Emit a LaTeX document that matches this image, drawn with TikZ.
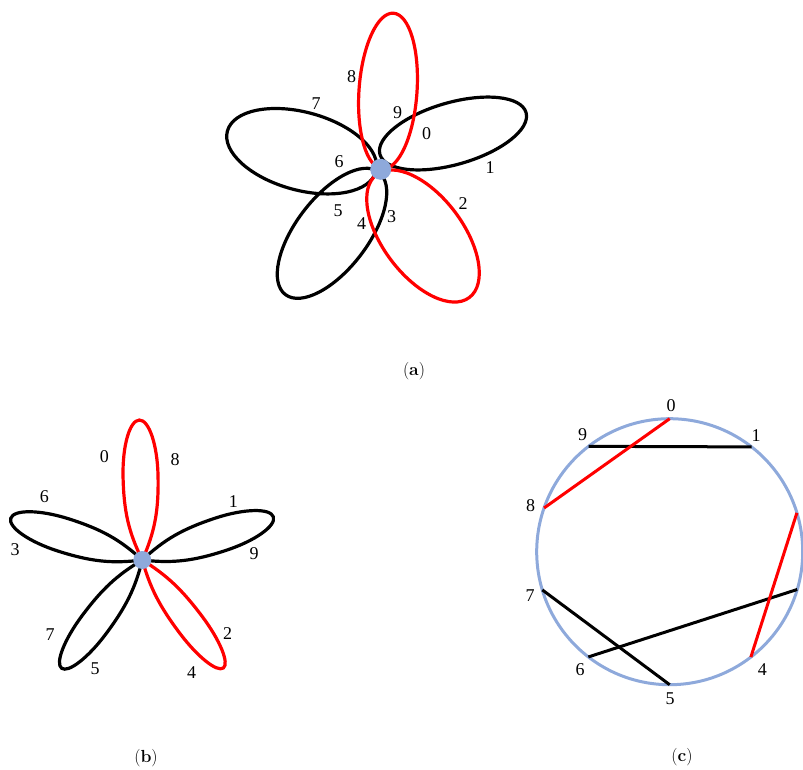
\documentclass[tikz,border=0pt]{standalone}
\usepackage{fontspec}
\newfontfamily\numfont{Liberation Serif}
\definecolor{dotblue}{HTML}{8EA9DB}
\definecolor{pred}{HTML}{FF0000}
\newcommand\bpetal[4]{%
 \begin{scope}[shift={(142.3,-560)}, rotate=#1]
  \draw[petal,#4] (0,0) .. controls ({0.2*#2},{0.75*#3}) and ({0.35*#2},#3) .. ({0.6*#2},#3)
    .. controls ({0.82*#2},#3) and (#2,{0.55*#3}) .. (#2,0)
    .. controls (#2,{-0.55*#3}) and ({0.82*#2},-#3) .. ({0.6*#2},-#3)
    .. controls ({0.35*#2},-#3) and ({0.2*#2},{-0.75*#3}) .. cycle;
 \end{scope}}
\begin{document}
\begin{tikzpicture}[x=1pt,y=1pt,
  petal/.style={line width=3.2pt},
  lab/.style={font=\numfont\fontsize{18}{18}\selectfont, inner sep=0pt},
  captxt/.style={font=\fontsize{17.5}{17.5}\selectfont, inner sep=0pt},
  chord/.style={line width=3pt},
  hub/.style={circle, fill=dotblue, inner sep=0pt}]
\useasboundingbox (0,0) rectangle (803,-769);

% ---------- (a) ----------
\draw[petal, rotate around={-15.2:(301.7,-151.2)}] (301.7,-151.2) ellipse [x radius=77, y radius=39];
\draw[petal, rotate around={16:(453,-133.5)}] (453,-133.5) ellipse [x radius=76, y radius=31];
\draw[petal, rotate around={52.7:(332,-233.3)}] (332,-233.3) ellipse [x radius=77, y radius=36];
\draw[petal, pred, rotate around={86:(388,-91)}] (388,-91) ellipse [x radius=78, y radius=29];
\draw[petal, pred, rotate around={-53:(423,-236)}] (423,-236) ellipse [x radius=77, y radius=40];
\node[hub, minimum size=21pt] (adot) at (380.7,-169.3) {};

\node[lab] (a8) at (351.7,-77) {8};
\node[lab] (a7) at (316,-104) {7};
\node[lab] (a9) at (397.7,-113) {9};
\node[lab] (a0) at (426.7,-134) {0};
\node[lab] (a6) at (339,-162) {6};
\node[lab] (a1) at (490,-168) {1};
\node[lab] (a2) at (463,-204) {2};
\node[lab] (a5) at (338,-211) {5};
\node[lab] (a3) at (391.7,-217) {3};
\node[lab] (a4) at (361.7,-224) {4};
\node[captxt] (capa) at (414,-371) {(\textbf{a})};

% ---------- (b) ----------
\bpetal{18.2}{138}{17}{black}
\bpetal{162.4}{138}{17}{black}
\bpetal{233.3}{135}{15}{black}
\bpetal{91.2}{140}{17.5}{pred}
\bpetal{306.9}{135}{14}{pred}
\node[hub, minimum size=18pt] (bdot) at (142.3,-560) {};

\node[lab] (b0) at (104.3,-456.7) {0};
\node[lab] (b8) at (175,-459.3) {8};
\node[lab] (b6) at (44.3,-496.7) {6};
\node[lab] (b1) at (233.3,-501.7) {1};
\node[lab] (b3) at (15,-549.3) {3};
\node[lab] (b9) at (254,-553.3) {9};
\node[lab] (b7) at (50,-635) {7};
\node[lab] (b2) at (227.7,-634) {2};
\node[lab] (b5) at (95,-668.3) {5};
\node[lab] (b4) at (191.7,-672.3) {4};
\node[captxt] (capb) at (146,-758) {(\textbf{b})};

% ---------- (c) ----------
\coordinate (cc) at (669.7,-551.7);
\path (cc) ++(90:133) coordinate (c0);
\path (cc) ++(52:133) coordinate (c1);
\path (cc) ++(17:133) coordinate (c2);
\path (cc) ++(-16.5:133) coordinate (c3);
\path (cc) ++(-52.4:133) coordinate (c4);
\path (cc) ++(-90:133) coordinate (c5);
\path (cc) ++(-127.7:133) coordinate (c6);
\path (cc) ++(-163.3:133) coordinate (c7);
\path (cc) ++(160.8:133) coordinate (c8);
\path (cc) ++(127.6:133) coordinate (c9);
\draw[dotblue, line width=3pt] (cc) circle (133);
\draw[chord] (c9) -- (c1);
\draw[chord] (c7) -- (c5);
\draw[chord] (c6) -- (c3);
\draw[chord, pred] (c0) -- (c8);
\draw[chord, pred] (c2) -- (c4);

\node[lab] (l0) at (671,-406) {0};
\node[lab] (l9) at (582.7,-434.3) {9};
\node[lab] (l1) at (756,-436) {1};
\node[lab] (l8) at (530.7,-506) {8};
\node[lab] (l7) at (530,-595.7) {7};
\node[lab] (l6) at (580,-670) {6};
\node[lab] (l4) at (762.3,-670) {4};
\node[lab] (l5) at (670,-698.3) {5};
\node[captxt] (capc) at (682,-757) {(\textbf{c})};
\end{tikzpicture}
\end{document}
